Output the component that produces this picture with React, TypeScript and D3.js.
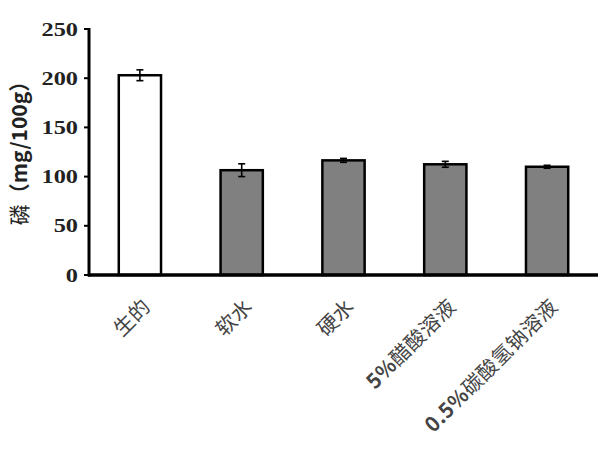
import React from "react";
import * as d3 from "d3";

const categories = ["生的", "软水", "硬水", "5%醋酸溶液", "0.5%碳酸氢钠溶液"];
const labelNums = ["", "", "", "5%", "0.5%"];
const labelCjk = ["生的", "软水", "硬水", "醋酸溶液", "碳酸氢钠溶液"];
const values = [203, 106.5, 116.5, 112.5, 110];
const errors = [5.5, 6.5, 2, 3, 1.5];
const fills = ["#ffffff", "#808080", "#808080", "#808080", "#808080"];
const yTicks = [0, 50, 100, 150, 200, 250];

const W = 611;
const H = 449;
const x0 = 89;
const x1 = 598;
const yBottom = 275;
const yTop = 29;

export default function App() {
  const x = d3
    .scaleBand<string>()
    .domain(categories)
    .range([x0, x1])
    .paddingInner(0.585)
    .paddingOuter(0.2925);
  const y = d3.scaleLinear().domain([0, 250]).range([yBottom, yTop]);
  const bw = x.bandwidth();

  return (
    <svg
      width={W}
      height={H}
      style={{ position: "absolute", left: 0, top: 0, background: "#fff" }}
    >
      <rect x={0} y={0} width={W} height={H} fill="#fff" />
      {/* bars */}
      {categories.map((c, i) => (
        <g key={c}>
          <rect
            x={x(c)!}
            y={y(values[i])}
            width={bw}
            height={yBottom - y(values[i])}
            fill={fills[i]}
            stroke="#000"
            strokeWidth={2.5}
          />
          <line
            x1={x(c)! + bw / 2}
            x2={x(c)! + bw / 2}
            y1={y(values[i] + errors[i])}
            y2={y(values[i] - errors[i])}
            stroke="#000"
            strokeWidth={1.6}
          />
          <line
            x1={x(c)! + bw / 2 - 3.5}
            x2={x(c)! + bw / 2 + 3.5}
            y1={y(values[i] + errors[i])}
            y2={y(values[i] + errors[i])}
            stroke="#000"
            strokeWidth={1.6}
          />
          <line
            x1={x(c)! + bw / 2 - 3.5}
            x2={x(c)! + bw / 2 + 3.5}
            y1={y(values[i] - errors[i])}
            y2={y(values[i] - errors[i])}
            stroke="#000"
            strokeWidth={1.6}
          />
        </g>
      ))}
      {/* y axis */}
      <line x1={x0} x2={x0} y1={yTop - 1} y2={yBottom + 1.5} stroke="#000" strokeWidth={3} />
      {yTicks.map((t) => (
        <g key={t}>
          <line x1={x0 - 5} x2={x0} y1={y(t)} y2={y(t)} stroke="#000" strokeWidth={2} />
          <text
            transform={`translate(78,${y(t)}) scale(1.28,1)`}
            dy="0.35em"
            textAnchor="end"
            fontFamily="'Liberation Serif', 'Times New Roman', serif"
            fontWeight="bold"
            fontSize={19}
            fill="#222"
          >
            {t}
          </text>
        </g>
      ))}
      {/* x axis */}
      <line x1={x0 - 1} x2={x1} y1={yBottom} y2={yBottom} stroke="#000" strokeWidth={3.5} />
      {/* x labels */}
      {categories.map((c, i) => {
        const cx = x(c)! + bw / 2 + 12;
        const cy = 308;
        return (
          <text
            key={c}
            transform={`translate(${cx},${cy}) rotate(-45)`}
            textAnchor="end"
            fontFamily="'Noto Sans CJK SC', 'Noto Sans', sans-serif"
            fontSize={20.5}
            letterSpacing={0.4}
            fill="#444"
          >
            {labelNums[i] && <tspan fontWeight="bold">{labelNums[i]}</tspan>}
            <tspan>{labelCjk[i]}</tspan>
          </text>
        );
      })}
      {/* y label */}
      <text
        transform={`translate(27,148) rotate(-90)`}
        textAnchor="middle"
        fontFamily="'Noto Sans CJK SC', 'Noto Sans', sans-serif"
        fontSize={21}
        fill="#222"
      >
        <tspan>磷</tspan>
        <tspan fontWeight="bold">（mg/100g）</tspan>
      </text>
    </svg>
  );
}
